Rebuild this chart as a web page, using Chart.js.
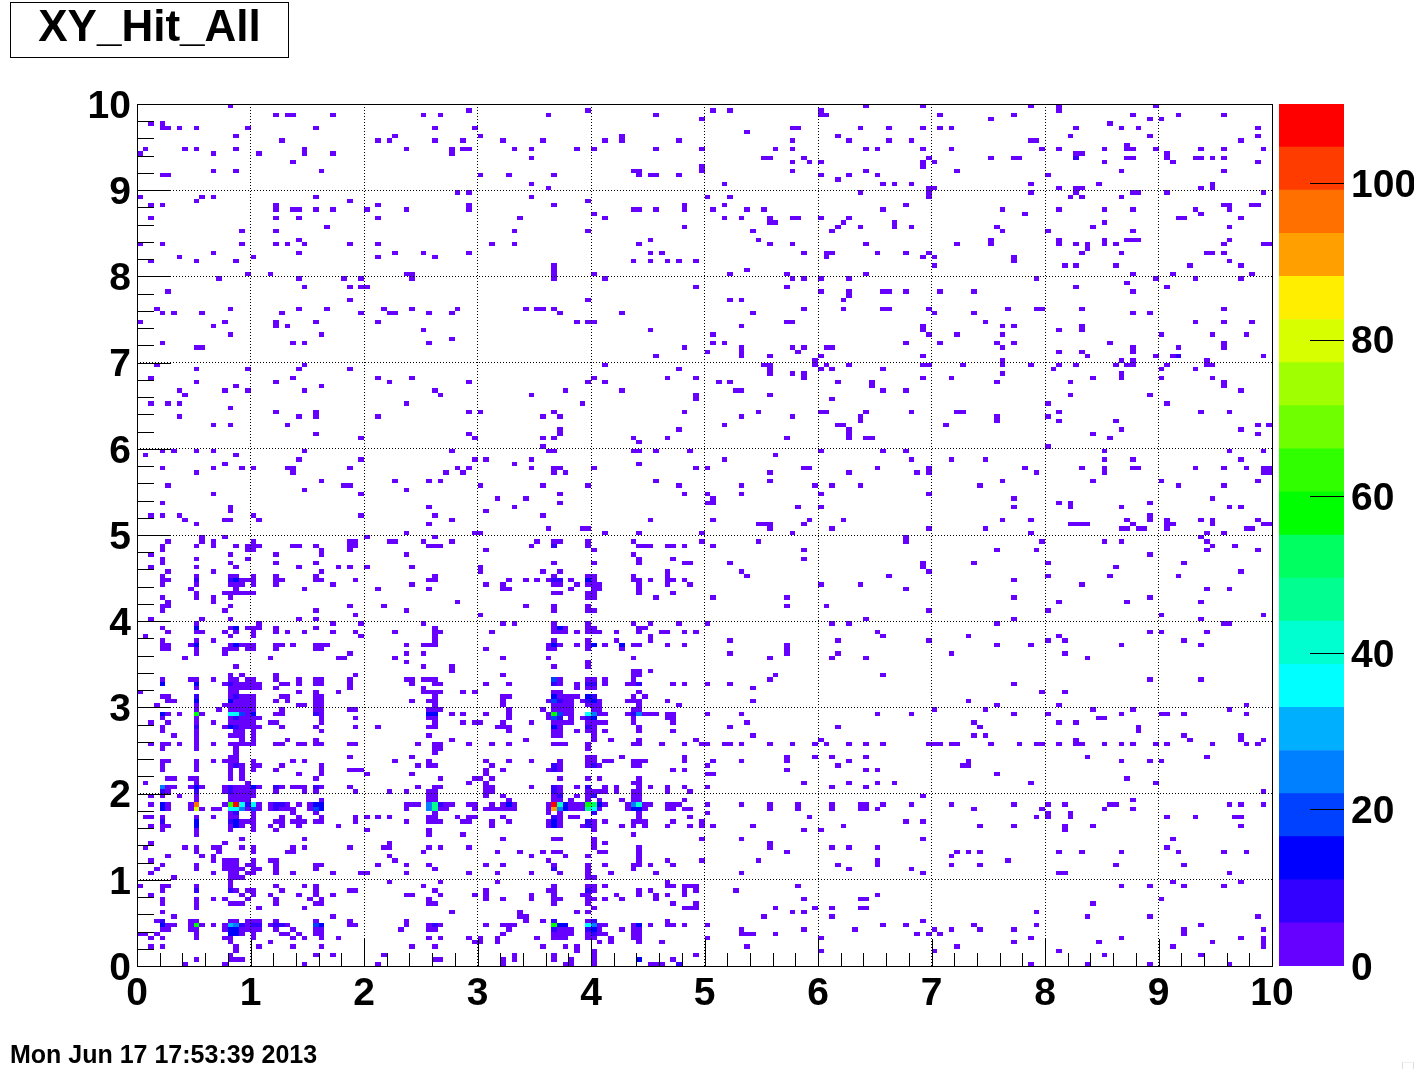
<!DOCTYPE html>
<html>
<head>
<meta charset="utf-8">
<title>XY_Hit_All</title>
<script src="https://cdn.jsdelivr.net/npm/chart.js@4"></script>
<style>
  html, body { margin: 0; padding: 0; background: #fff; }
  #page { position: relative; width: 1414px; height: 1069px; overflow: hidden; font-family: "Liberation Sans", Arial, sans-serif; font-weight: bold; color: #000; }
  #page canvas { position: absolute; left: 0; top: 0; }
  #title { position: absolute; left: 10px; top: 2px; width: 277px; height: 54px; border: 1px solid #000; text-align: center; font-size: 44px; line-height: 46px; background: #fff; }
  #stamp { position: absolute; left: 10px; top: 1039px; font-size: 25px; line-height: 30px; white-space: nowrap; }
  #grip { position: absolute; left: 1402px; top: 1062px; width: 10px; height: 6px; border: 1px solid #ddd; border-top-color: #eee; }
</style>
</head>
<body>
<div id="page">
  <canvas id="histChart" width="1414" height="1069"></canvas>
  <canvas id="paletteChart" width="1414" height="1069"></canvas>
  <div id="title">XY_Hit_All</div>
  <div id="stamp">Mon Jun 17 17:53:39 2013</div>
  <div id="grip"></div>
</div>
<script>
// 200 x 200 bins over 0..10. Rows are counted from the top of the plot.
const BIN_WIDTH = 0.05;
const Z_MAX = 110.1;
const X_LABEL_STEP = 1;
const Z_LABEL_STEP = 20;

// colour bands of the palette, bottom to top
const bandColors = [
  "#6600ff", "#3300ff", "#0000ff", "#0040ff", "#0080ff",
  "#00b0ff", "#00ffff", "#00ffd0", "#00ff90", "#00ff60",
  "#00ff00", "#30ff00", "#70ff00", "#a0ff00", "#d8ff00",
  "#ffee00", "#ffa000", "#ff7000", "#ff3c00", "#ff0000"
];

// cells with a low count (lowest band), x bins per row
const lowRows = [
  [16,128,138,157,162,179],
  [58,79,101,104,120,162],
  [24,26,27,34,50,53,72,91,120,121,141,154,175,183,191],
  [99,150,178,180],
  [2,4,171],
  [4,5,7,10,19,31,52,59,115,116,127,132,138,141,143,165,173,176,197],
  [107],
  [17,45,60,85,123,164,178,197],
  [25,42,44,52,57,64,71,82,85,95,115,125,132,136,157,158,194],
  [174],
  [1,8,10,17,29,47,55,57,58,66,69,77,80,91,99,112,115,128,130,138,143,159,162,170,174,175,179,187,191,198],
  [0,13,21,29,34,55,165,166,181],
  [69,110,111,117,139,150,154,155,174,175,181,186,187,189,191],
  [27,115,118,120,138,140,170,182,197],
  [99,138],
  [13,17,32,87,88,99,115,128,144,173,191],
  [4,5,60,65,73,88,90,91,95,120,125,130,160],
  [123],
  [69,103,131,133,136,157,169,189],
  [72,139,140,162,165,166,187,189],
  [56,58,127,139,157,165,175,176,181,198],
  [0,11,13,31,69,100,104,139,164,166,173],
  [10,37,79],
  [2,4,24,42,58,73,96,103,135,191,192,196,197],
  [24,27,28,31,34,40,47,58,87,88,91,96,101,107,110,131,152,162,170,175,186,192],
  [80,156,187],
  [2,24,28,42,67,82,103,106,111,115,116,120,125,183,184,194],
  [111,112,124,133,170],
  [33,96,123,127,133,136,151,168,192],
  [18,24,66,79,108,122,152,160,175],
  [],
  [28,90,109,150,162,170,174,175,176,192],
  [0,4,18,24,26,29,37,42,62,66,88,111,115,128,144,150,162,165,167,170,172,191,198,199],
  [167],
  [13,28,45,50,58,90,92,117,121,122,130,135,139,166,173,188,189,191],
  [7,20,42,52,121,138,140,154],
  [2,10,17,87,90,93,95,98,154,192],
  [73,140,163,165,172,185,194],
  [73,107],
  [19,23,47,48,73,80,104,114,128,175,182,196],
  [14,28,36,39,48,73,82,115,117,120,125,158,179,186,194],
  [174],
  [29,37,39,40,98,114,165,181],
  [5,120,125,131,132,135,141,147,175],
  [125],
  [37,79,104,106,124],
  [],
  [3,16,28,33,43,48,56,68,70,71,73,117,124,131,132,139,153,158,159,166,191],
  [4,6,11,25,39,44,45,51,55,74,85,108,140,147,175,178],
  [],
  [0,15,24,31,42,77,79,80,114,115,149,186,191,196],
  [13,24,26,106,138,152,154,166],
  [50,90,138,162,166],
  [16,32,101,139,144,152,180,189,195],
  [55],
  [4,27,29,51,101,103,135,141,151,154,171,191],
  [10,11,96,106,115,117,121,122,152,175,183,191],
  [100,106,116,162,166,175],
  [91,106,111,120,138,167,179,182,198],
  [119,152,173,175,188],
  [3,29,82,110,111,119,121,125,138,139,145,152,157,162,165,172,174,175,181,188,189],
  [10,19,28,37,95,111,120,122,131,161,180,186],
  [111,115,117,152,173],
  [2,27,42,48,80,93,98,117,138,143,168,173,180,189],
  [10,24,44,58,79,82,102,104,123,129,151,164,191],
  [17,32,129,191],
  [7,15,19,29,52,75,85,105,106,131,135,194],
  [8,53,69,98,111,164,178],
  [98,122],
  [2,5,7,47,78,160,181],
  [16],
  [24,31,58,60,73,96,109,120,121,128,136,144,145,162,187,192],
  [7,28,31,42,71,74,106,115,127,151,160],
  [127,151,162,172],
  [13,16,26,103,123,124,142,197,199],
  [74,95,125,173,194],
  [31,58,74,125,168,197],
  [39,59,71,73,87,93,114,125,128,129,171],
  [88],
  [71,160],
  [4,6,10,13,29,55,72,73,87,88,91,97,120,131,135,170,192,198],
  [1,17,112],
  [28,39,59,61,69,103,136,143,149,170,175,194],
  [15,66,88],
  [4,13,18,20,26,27,37,56,58,69,73,74,80,98,100,117,118,130,139,156,166,170,175,176,186,191,195,198,199],
  [10,27,54,57,73,75,111,125,137,139,158,170,198,199],
  [],
  [32,45,51,53,91,111,152,168,180,197],
  [5,36,37,60,71,79,95,106,119,122,127,148,183,191],
  [29,47],
  [13,39,74,96,100,106,120,139],
  [63,68,101,154,189],
  [4,74,100,101,162,164,178],
  [16,51,66,116,120,154,164,173,192,194],
  [16,61],
  [2,4,7,20,39,52,71,178],
  [8,15,16,21,55,90,101,118,124,152,157,174,178,181,187,189,197],
  [10,51,109,110,111,117,164,165,166,167,175,181,182,189,198,199],
  [72,78,79,111,122,139,149,173,174,176,177,181,195,196],
  [47,59,60,82,88,99,115,157,188,191],
  [11,15,40,52,135,187],
  [5,11,13,20,37,38,44,45,50,55,70,73,74,79,87,99,109,135,159,170,173,188],
  [4,10,13,17,19,20,21,27,28,31,37,38,51,52,53,69,79,88,89,90,93,94,96,101,189,193],
  [4,19,20,32,37,61,80,117,151,158,188,197],
  [2,16,24,32,47,87,178],
  [4,10,19,88,94,117],
  [4,16,24,31,73,80,88,96,97,104,138,147,160,184],
  [2,10,17,28,35,37,40,48,60,138,172],
  [5,13,32,60,71,74,93,106,139,194],
  [4,10,16,17,20,24,31,52,73,79,80,87,93,107,132,160,171,183],
  [4,5,18,19,20,24,25,31,32,38,51,52,65,68,70,72,76,80,87,88,90,93,94,96,154],
  [4,10,16,17,18,20,24,34,48,61,64,73,74,77,79,80,81,88,93,97,120,127,166],
  [9,17,29,42,51,64,65,76,80,81,88,135,188,192],
  [10,15,16,17,18,19,20,73,74,79,80,88,94],
  [4,10,13,16,79,80,91,101,114,154,178],
  [5,13,56,162,174,187],
  [4,5,16,37,43,68,73,79,114,121],
  [4,15,31,47,73,79,80,139,160],
  [38,60,180,198],
  [2,11,16,28,31,128,154,187],
  [10,21,34,39,50,64,66,73,79,87,90,95,100,122,125,151,191,192],
  [4,16,19,20,21,24,31,52,73,75,79,80,88,89],
  [5,10,11,15,17,20,24,26,29,34,38,45,52,53,62,73,74,75,77,79,80,81,84,88,92,93,96,98,130,178,180,188],
  [1,16,20,39,52,90,131,146,162],
  [4,10,13,52,73,79,84,90,104,123,139,160,163,184],
  [4,5,9,16,18,19,20,24,25,27,31,32,33,47,50,51,52,72,74,77,79,82,87,88,93,96,114,151,157,173,187],
  [4,5,10,15,16,17,19,20,24,31,32,61,72,73,79,85,114],
  [10,15,37,47,50,104,114,123,143,163],
  [8,23,35,36,45,64,72,87,111,122,128,167],
  [47,79],
  [17,50,55,73,79],
  [55,87,88,90],
  [16,18,24,38,64,87,88,112,131],
  [4,9,10,13,16,17,19,20,24,28,31,32,37,47,48,50,51,52,74,79,80,82,87,111,178,187],
  [15,17,18,19,20,21,25,26,28,31,32,37,48,52,53,61,65,74,77,82,86,87,94,96,100,104,154],
  [10,16,17,18,19,20,21,24,37,50,77,79,80,108],
  [0,16,17,28,31,35,50,51,52,53,57,59,73,74,88,159,163],
  [4,5,16,18,19,20,25,26,31,32,52,64,65,74,75,76,77,87,89],
  [5,6,17,18,19,20,24,26,31,32,48,51,52,64,72,75,76,78,81,86,87,88,93,108,146],
  [3,10,15,16,17,18,19,20,28,29,31,32,52,64,73,74,75,76,79,80,81,88,95,151,162,195],
  [10,14,16,17,18,19,20,25,31,32,37,38,51,52,53,65,71,73,74,75,76,80,81,87,88,140,149,168,175,192],
  [5,7,11,19,24,25,32,55,57,61,65,72,75,76,81,82,86,89,90,91,93,94,100,106,130,136,154,160,173,180,181,184,195],
  [4,10,16,18,19,20,21,32,38,51,52,65,72,76,78,87,93,94,169,170],
  [2,5,10,13,16,17,18,19,20,23,24,32,52,57,59,60,64,69,73,74,75,76,79,80,81,82,87,94,107,147,162,165],
  [4,15,18,19,20,21,25,31,38,42,51,52,63,64,65,74,80,88,104,123,148,176],
  [4,10,17,18,20,32,65,73,74,77,79,80,82,88,94,176],
  [6,10,16,17,18,20,51,73,74,80,108,147,149,184,194],
  [10,18,20,26,31,55,68,80,83,88,98,120,165,185,194,198],
  [2,4,5,7,10,13,16,17,18,19,20,24,25,28,29,31,32,37,38,49,52,53,58,62,65,73,74,75,79,87,88,92,96,99,100,103,104,106,111,115,119,121,125,128,131,139,140,141,143,144,150,155,158,159,162,165,166,170,173,175,179,181,189,195,197],
  [4,10,17,52,53,79],
  [17,52],
  [16,17,37,48,79,80,85,96,114,119,122,128,167,188],
  [4,5,10,13,15,16,17,20,27,29,45,51,61,65,69,74,79,80,82,83,87,88,89,96,101,106,114,125,146,173,178,180],
  [4,10,16,18,20,21,25,32,49,51,52,62,74,79,81,87,88,100,123,145,146],
  [4,10,16,18,20,24,32,37,38,39,61,64,72,74,94,96,114,128,130],
  [16,18,28,32,40,48,61,100,101,151],
  [5,6,9,10,16,18,31,53,59,60,62,74,79,81,88,174],
  [1,10,19,58,61,87,88,117,125,130,133,157,179],
  [5,6,9,11,15,17,18,19,21,25,27,28,29,32,37,49,52,53,61,62,69,74,77,82,84,88,90,93,96,100,122,128],
  [5,15,17,18,19,20,24,29,31,38,44,47,51,52,61,62,74,79,80,81,82,84,87,88,93,97,198],
  [2,4,7,10,16,17,18,19,20,51,52,61,64,73,77,79,87,88,138],
  [10,16,17,18,19,32,51,52,65,73,74,76,79,81,85,87,88,96,175],
  [2,5,9,15,21,23,26,28,30,47,48,49,54,55,58,59,62,64,66,72,76,77,78,82,86,89,90,93,94,95,100,106,111,116,122,127,128,131,136,143,154,160,163,171,172,192,194,198],
  [5,9,11,13,14,19,21,23,25,26,27,30,47,53,54,59,61,62,63,64,65,66,72,76,77,78,81,86,89,93,94,96,97,111,116,122,127,128,130,147,159,170,175],
  [16,20,27,31,52,72,74,88,100,160,164],
  [1,2,4,10,13,16,17,20,25,28,32,38,40,42,44,51,52,56,58,59,64,74,76,77,88,97,118,158,160,164,181,186,193,194],
  [18,19,20,24,25,27,28,29,31,32,38,47,51,52,53,57,58,62,65,72,74,80,82,87,88,89,94,99,135,138],
  [2,4,5,16,18,20,23,25,28,35,62,72,74,78,80,85,87,89,93,97,99,101,108,124,148,154,163,168,194],
  [4,10,16,20,24,40,51,80,117,120,163],
  [10,51,57,87],
  [18,29,64,73,74,80,99,106,138,182],
  [2,15,44,80,82,111],
  [1,8,10,13,14,18,20,27,29,37,43,44,51,53,58,80,88,111,122,125,130,181],
  [10,14,20,26,27,50,63,67,71,73,74,81,82,88,114,144,146,148,162,166,173,183,191,195],
  [5,11,13,44,69,75,79,88,143],
  [2,13,15,16,17,20,23,24,45,72,88,93,99,109,130,153],
  [4,10,15,16,17,19,20,24,31,32,42,47,51,61,64,73,79,82,87,88,90,94,123,130,143,148,172,184],
  [3,10,15,16,17,18,20,21,24,31,52,79,87,125,136],
  [2,13,16,17,19,20,24,27,34,39,40,47,58,63,69,74,79,83,91,106,138,162,163,192],
  [6,16,17,18,79,80],
  [16,44,53,63,93,182,194],
  [0,4,5,10,16,24,29,31,50,73,79,80,82,93,94,96,97,98,116,173,178,184,191],
  [4,17,19,20,25,31,37,38,52,61,72,73,80,88,90,96,98,105],
  [2,18,20,23,28,31,34,47,48,53,59,61,69,73,78,79,84,88,91,93,96,130],
  [4,10,13,15,19,24,30,32,51,61,64,69,73,74,79,80,82,85,91,117,127,128,180],
  [4,10,16,17,18,24,31,32,51,52,73,79,94,98,168],
  [10,21,29,80,96,97,98,112,119,122,127,128],
  [4,55,67,77,79,115,117,158],
  [6,34,67,68,110,122,167,178,197],
  [3,9,10,16,17,19,20,21,24,31,37,47,68,71,79,93,138],
  [5,6,9,11,13,15,19,23,26,37,38,47,51,53,61,64,65,66,81,82,87,90,93,94,96,100,131,135,147,158,187],
  [4,5,9,10,15,18,19,20,21,24,27,31,32,46,51,52,65,74,75,76,81,85,87,88,106,117,126,140,143,148,154,184,198],
  [0,1,3,10,18,20,25,26,28,31,32,64,73,74,75,76,79,81,82,87,88,106,107,108,112,137,139,141,184],
  [2,4,10,15,16,20,27,29,32,35,51,53,58,60,63,70,73,74,75,79,80,83,87,88,100,120,157,173,194,198],
  [16,23,59,60,63,81,83,88,92,154,169,189,198],
  [2,4,17,21,27,32,48,52,71,75,77,107,144,182,198],
  [17,77,80,120,140,162],
  [16,31,34,43,66,73,80,98,170,187],
  [10,16,17,18,52,53,64,66,73,76,80,94],
  [8,15,29,42,64,75,76,80,90,91,92,157,167,178,192]
];

// the brighter cells: x bin, row from top, count
const hotCells = [
  [165,12,8],[183,58,8],
  [10,110,8],[16,110,8],[17,110,14],[73,110,8],[74,110,8],[79,110,14],[73,102,8],
  [10,121,14],[17,121,14],[74,121,14],
  [10,125,14],[17,125,14],[73,125,14],[80,125,14],[85,125,14],
  [73,133,19],
  [4,134,14],[10,134,14],[16,134,8],[73,134,8],[79,134,8],[80,134,8],[88,134,8],
  [10,137,8],[17,137,8],[73,137,14],[79,137,14],[80,137,8],
  [10,138,14],[16,138,14],[73,138,19],[74,138,8],[79,138,8],[80,138,14],
  [4,141,14],[10,141,58],[16,141,36],[17,141,36],[18,141,20],[20,141,14],[31,141,8],
  [51,141,14],[52,141,14],[73,141,58],[74,141,22],[79,141,36],[80,141,26],[87,141,8],[88,141,26],
  [17,142,8],[73,142,18],[74,142,8],[79,142,8],[80,142,13],
  [10,144,8],[16,144,13],[17,144,8],[73,144,13],[79,144,8],
  [17,153,8],[73,153,8],[80,153,8],[73,154,8],
  [4,158,24],[10,158,13],[16,158,8],[20,158,13],[24,158,8],[31,158,8],[73,158,8],[79,158,8],
  [4,159,8],[10,159,8],[16,159,8],[73,159,8],[74,160,8],[80,160,8],
  [4,162,14],[10,162,94],[16,162,65],[17,162,107],[18,162,36],[19,162,8],[20,162,36],[24,162,8],[25,162,8],[31,162,14],[32,162,14],
  [51,162,25],[52,162,47],[53,162,8],[65,162,14],[73,162,107],[74,162,44],[75,162,14],[79,162,58],[80,162,55],[81,162,14],[87,162,25],[88,162,44],
  [4,163,14],[10,163,80],[16,163,36],[17,163,36],[18,163,25],[20,163,19],[24,163,8],[31,163,19],[32,163,14],
  [51,163,25],[52,163,47],[73,163,91],[74,163,25],[75,163,14],[79,163,47],[80,163,36],[87,163,14],[88,163,14],
  [17,164,8],[80,164,8],[73,165,8],
  [4,166,8],[10,166,14],[16,166,8],[17,166,14],[73,166,14],[79,166,8],
  [10,167,14],[17,167,14],[73,167,14],[79,167,8],
  [73,177,8],[10,182,8],[16,182,8],[79,182,8],
  [4,189,8],[73,189,8],[80,189,8],
  [4,190,14],[10,190,58],[16,190,30],[17,190,25],[18,190,8],[20,190,8],[21,190,8],[24,190,8],[25,190,8],[31,190,19],[32,190,14],
  [52,190,8],[73,190,58],[74,190,14],[75,190,14],[79,190,36],[80,190,25],[88,190,14],
  [16,191,14],[17,191,14],[73,191,8],[79,191,8],[80,191,14],
  [16,192,14],[17,192,14],[80,192,8],
  [88,198,14],[95,199,8]
];

// --- UTILS ---
function cellCentre(col, row) {
  return { x: (col + 0.5) * BIN_WIDTH, y: 10 - (row + 0.5) * BIN_WIDTH };
}

function buildHistDatasets() {
  const bands = bandColors.map(() => []);
  lowRows.forEach((cols, row) => {
    cols.forEach(col => bands[0].push(cellCentre(col, row)));
  });
  hotCells.forEach(([col, row, count]) => {
    const band = Math.min(Math.floor(count / (Z_MAX / bandColors.length)), bandColors.length - 1);
    bands[band].push(cellCentre(col, row));
  });
  return bands.map((data, i) => ({
    label: `band ${i}`,
    data,
    backgroundColor: bandColors[i],
    pointRadius: 0,
    showLine: false
  }));
}

// bins are not square, so each one is filled between its edges on the two scales
const binCellsPlugin = {
  id: 'binCells',
  afterDatasetsDraw(chart) {
    const { ctx, scales: { x, y } } = chart;
    const half = BIN_WIDTH / 2;
    ctx.save();
    chart.data.datasets.forEach(ds => {
      ctx.fillStyle = ds.backgroundColor;
      ds.data.forEach(p => {
        const x0 = Math.round(x.getPixelForValue(p.x - half));
        const x1 = Math.round(x.getPixelForValue(p.x + half));
        const y0 = Math.round(y.getPixelForValue(p.y + half));
        const y1 = Math.round(y.getPixelForValue(p.y - half));
        ctx.fillRect(x0, y0, x1 - x0, y1 - y0);
      });
    });
    ctx.restore();
  }
};

// frame and inward ticks, ROOT style
const frameTicksPlugin = {
  id: 'frameTicks',
  afterDraw(chart) {
    const { ctx, chartArea: a, scales: { x, y } } = chart;
    ctx.save();
    ctx.fillStyle = '#000';
    ctx.fillRect(a.left, a.top, a.right - a.left + 1, 1);
    ctx.fillRect(a.left, a.bottom, a.right - a.left + 1, 1);
    ctx.fillRect(a.left, a.top, 1, a.bottom - a.top + 1);
    ctx.fillRect(a.right, a.top, 1, a.bottom - a.top + 1);
    for (let i = 0; i <= 50; i++) {
      const major = i % 5 === 0;
      const px = Math.round(x.getPixelForValue(i * 0.2));
      const xLen = major ? 27 : 13;
      ctx.fillRect(px, a.bottom - xLen, 1, xLen);
      const py = Math.round(y.getPixelForValue(i * 0.2));
      const yLen = major ? 34 : 17;
      ctx.fillRect(a.left, py, yLen, 1);
    }
    ctx.restore();
  }
};

const paletteTicksPlugin = {
  id: 'paletteTicks',
  afterDraw(chart) {
    const { ctx, chartArea: a, scales: { y } } = chart;
    ctx.save();
    ctx.fillStyle = '#000';
    for (let v = Z_LABEL_STEP; v <= 100; v += Z_LABEL_STEP) {
      ctx.fillRect(a.right - 34, Math.round(y.getPixelForValue(v)), 34, 1);
    }
    ctx.restore();
  }
};

const tickFont = { family: '"Liberation Sans", Arial, sans-serif', weight: 'bold', size: 39 };

// --- CHARTS ---
function renderHistChart() {
  new Chart(document.getElementById('histChart').getContext('2d'), {
    type: 'scatter',
    data: { datasets: buildHistDatasets() },
    plugins: [binCellsPlugin, frameTicksPlugin],
    options: {
      responsive: false,
      animation: false,
      layout: { padding: { left: 0, top: 104, right: 142, bottom: 0 } },
      plugins: { legend: { display: false }, tooltip: { enabled: false } },
      scales: {
        x: {
          type: 'linear',
          min: 0,
          max: 10,
          afterFit(scale) { scale.height = 103; },
          grid: { color: '#000', lineWidth: 1, drawTicks: false, z: 1 },
          border: { display: false, dash: [1, 2] },
          ticks: { stepSize: X_LABEL_STEP, maxRotation: 0, color: '#000', font: tickFont, padding: 5 }
        },
        y: {
          type: 'linear',
          min: 0,
          max: 10,
          afterFit(scale) { scale.width = 137; },
          grid: { color: '#000', lineWidth: 1, drawTicks: false, z: 1 },
          border: { display: false, dash: [1, 2] },
          ticks: { stepSize: X_LABEL_STEP, color: '#000', font: tickFont, padding: 6, labelOffset: 3 }
        }
      }
    }
  });
}

function renderPaletteChart() {
  const bandSize = Z_MAX / bandColors.length;
  new Chart(document.getElementById('paletteChart').getContext('2d'), {
    type: 'bar',
    data: {
      labels: ['z'],
      datasets: bandColors.map(color => ({
        data: [bandSize],
        backgroundColor: color,
        borderWidth: 0,
        barPercentage: 1,
        categoryPercentage: 1
      }))
    },
    plugins: [paletteTicksPlugin],
    options: {
      responsive: false,
      animation: false,
      layout: { padding: { left: 1279, top: 104, right: 0, bottom: 103 } },
      plugins: { legend: { display: false }, tooltip: { enabled: false } },
      scales: {
        x: { stacked: true, display: false },
        y: {
          stacked: true,
          position: 'right',
          min: 0,
          max: Z_MAX,
          afterFit(scale) { scale.width = 70; },
          afterBuildTicks(scale) { scale.ticks = scale.ticks.filter(t => t.value % Z_LABEL_STEP === 0); },
          grid: { display: false, drawTicks: false },
          border: { display: false },
          ticks: { stepSize: Z_LABEL_STEP, color: '#000', font: tickFont, padding: 7, labelOffset: 3 }
        }
      }
    }
  });
}

document.addEventListener('DOMContentLoaded', () => {
  renderHistChart();
  renderPaletteChart();
});
</script>
</body>
</html>
